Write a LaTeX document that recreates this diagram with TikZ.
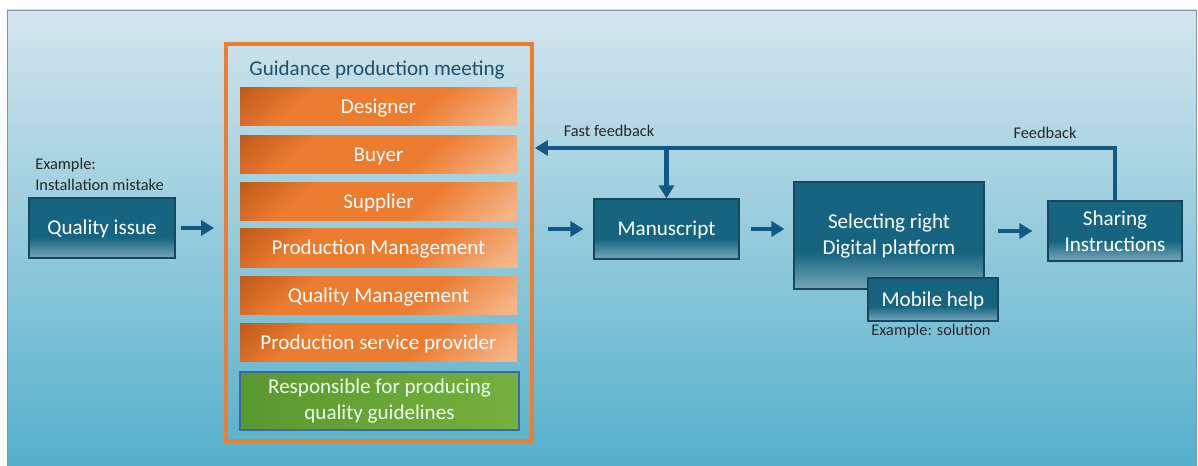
\documentclass[tikz,border=0pt]{standalone}
\usepackage{fontspec}
\setmainfont{Carlito}
\usetikzlibrary{arrows.meta, positioning, calc}

\definecolor{bgtop}{RGB}{212,230,237}
\definecolor{bgbot}{RGB}{84,176,203}
\definecolor{bgline}{RGB}{120,150,175}
\definecolor{tealD}{RGB}{22,100,128}
\definecolor{tealL}{RGB}{118,168,186}
\definecolor{tealline}{RGB}{25,70,95}
\definecolor{orD}{RGB}{190,88,26}
\definecolor{orM}{RGB}{236,124,48}
\definecolor{orL}{RGB}{246,180,136}
\definecolor{orframe}{RGB}{237,125,49}
\definecolor{grL}{RGB}{90,152,48}
\definecolor{grR}{RGB}{118,176,62}
\definecolor{grline}{RGB}{60,105,160}
\definecolor{flowc}{RGB}{18,88,135}
\definecolor{titlec}{RGB}{30,80,110}

\pgfdeclareverticalshading{tealbox}{100bp}{color(0bp)=(tealL); color(25bp)=(tealL); color(42bp)=(tealD); color(100bp)=(tealD)}
\pgfdeclareverticalshading{orbar}{100bp}{color(0bp)=(orL); color(18bp)=(orL); color(40bp)=(orM); color(68bp)=(orM); color(86bp)=(orD); color(100bp)=(orD)}

\tikzset{
  box/.style={draw=tealline, line width=0.6pt, shading=tealbox, text=white,
    font=\fontsize{12}{14.8}\selectfont, align=center, inner sep=0pt},
  onerow/.style={text height=7.8pt, text depth=0pt},
  bar/.style={shading=orbar, shading angle=40, text=white, minimum width=277*0.02cm,
    minimum height=38*0.02cm, font=\fontsize{12}{14}\selectfont, inner sep=0pt, onerow},
  note/.style={text=black!85, font=\fontsize{9.3}{12}\selectfont, inner sep=0pt},
  flow/.style={draw=flowc, line width=2.3pt, -{Triangle[length=0.26cm, width=0.3cm]}}
}

\begin{document}
\begin{tikzpicture}[x=0.02cm, y=-0.02cm]
\useasboundingbox (0,0) rectangle (1198,466);
\shade[top color=bgtop, bottom color=bgbot] (7,10) rectangle (1196,466);
\draw[bgline, line width=0.5pt] (7,466) -- (7,10) -- (1196,10) -- (1196,466);

\node[box, onerow, minimum width=146*0.02cm, minimum height=60*0.02cm] (qissue) at (102,228) {Quality issue};
\node[note, align=left, anchor=west] (qnote) at (35,174) {Example:\\Installation mistake};

% meeting frame with its members
\node[draw=orframe, line width=2.2pt, minimum width=306*0.02cm, minimum height=397*0.02cm] (frame) at (379,242.5) {};
\node[text=titlec, font=\fontsize{12}{14}\selectfont, onerow] (title) at (377,69) {Guidance production meeting};
\node[bar] (designer) at (378.5,107) {Designer};
\node[bar] (buyer) at (378.5,155) {Buyer};
\node[bar] (supplier) at (378.5,201.5) {Supplier};
\node[bar] (prodmgmt) at (378.5,248) {Production Management};
\node[bar] (qualmgmt) at (378.5,295.5) {Quality Management};
\node[bar] (service) at (378.5,342.5) {Production service provider};
\node[draw=grline, line width=0.6pt, left color=grL, right color=grR, text=white!92!green,
  minimum width=279*0.02cm, minimum height=58*0.02cm, align=center, inner sep=0pt,
  font=\fontsize{12}{14.5}\selectfont] (resp) at (379.5,401) {Responsible for producing\\quality guidelines};

\node[box, onerow, minimum width=145*0.02cm, minimum height=60*0.02cm] (manus) at (666.5,229) {Manuscript};
\node[box, minimum width=190*0.02cm, minimum height=107*0.02cm] (platform) at (889,235.5) {Selecting right\\Digital platform};
\node[box, onerow, minimum width=130*0.02cm, minimum height=43*0.02cm] (mobile) at (933,299.5) {Mobile help};
\node[note] (solnote) at (931,331) {Example: solution};
\node[box, minimum width=134*0.02cm, minimum height=60*0.02cm] (sharing) at (1115,231) {Sharing\\Instructions};

\draw[flow, shorten <=0.1cm, shorten >=0.2cm] (qissue.east) -- (qissue.east -| frame.west);
\draw[flow, shorten <=0.28cm, shorten >=0.2cm] (manus.west -| frame.east) -- (manus.west);
\draw[flow, shorten <=0.22cm, shorten >=0.18cm] (manus.east) -- (manus.east -| platform.west);
\draw[flow, shorten <=0.26cm, shorten >=0.3cm] (platform.east |- sharing.west) -- (sharing.west);

% feedback loops
\coordinate (fb) at (0,148);
\draw[flow, line join=miter, shorten >=0.02cm]
  (sharing.north) -- (sharing.north |- fb) -- (frame.east |- fb);
\draw[flow] (manus.north |- fb) -- (manus.north);
\node[note] (fastlbl) at (609,131) {Fast feedback};
\node[note] (fblbl) at (1045,133) {Feedback};
\end{tikzpicture}
\end{document}
